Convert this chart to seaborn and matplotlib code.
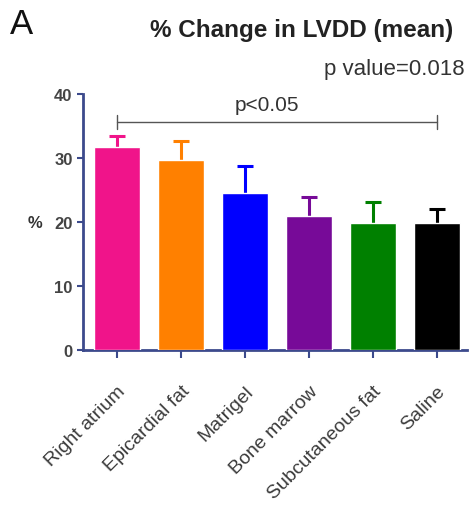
import matplotlib
matplotlib.use("Agg")
import matplotlib.pyplot as plt
import seaborn as sns

groups = ["Right atrium", "Epicardial fat", "Matrigel", "Bone marrow",
          "Subcutaneous fat", "Saline"]
means = [31.7, 29.7, 24.6, 21.0, 19.8, 19.9]
sems = [1.8, 3.0, 4.1, 3.0, 3.4, 2.2]
colors = ["#f0148a", "#ff8000", "#0000ff", "#770a98", "#008000", "#000000"]
yticks = [0, 10, 20, 30, 40]

sns.set_style("ticks")
plt.rcParams["font.family"] = ["Liberation Sans", "DejaVu Sans"]

axis_col = "#3c4a8c"
text_col = "#333333"

fig = plt.figure(figsize=(4.77, 5.06), dpi=100)
ax = fig.add_axes([0.174, 0.306, 0.805, 0.506])

sns.barplot(x=groups, y=means, hue=groups, palette=colors, legend=False,
            saturation=1, width=0.71, ax=ax, zorder=3)

# upper-only error bars in the bar colour (lower cap hidden)
for i, (m, s, c) in enumerate(zip(means, sems, colors)):
    _, caps, _ = ax.errorbar(i, m, yerr=[[0], [s]], fmt="none", ecolor=c,
                             elinewidth=2.2, capsize=5.8, capthick=2.2, zorder=2)
    caps[0].set_visible(False)

ax.set_xlim(-0.53, 5.47)
ax.set_ylim(0, 40)
ax.set_yticks(yticks)
ax.set_xlabel("")
ax.set_ylabel("%", fontsize=12, fontweight="bold", color=text_col,
              rotation=0, labelpad=14, va="center")

for side in ["top", "right"]:
    ax.spines[side].set_visible(False)
for side in ["left", "bottom"]:
    ax.spines[side].set_color(axis_col)
    ax.spines[side].set_linewidth(2)

ax.tick_params(axis="y", colors=axis_col, width=1.5, length=4,
               labelcolor="#444444", labelsize=12)
for lab in ax.get_yticklabels():
    lab.set_fontweight("bold")
ax.tick_params(axis="x", colors=axis_col, width=1.5, length=6, pad=17,
               labelcolor="#3a3a3a", labelsize=14)
plt.setp(ax.get_xticklabels(), rotation=45, ha="right", rotation_mode="anchor")

# significance bracket
yb = 35.6
ax.plot([0, 5], [yb, yb], color="#555555", lw=1, zorder=4)
ax.plot([0, 0], [yb - 1.1, yb + 1.1], color="#555555", lw=1, zorder=4)
ax.plot([5, 5], [yb - 1.1, yb + 1.1], color="#555555", lw=1, zorder=4)
ax.text(2.35, 38.4, "p<0.05", ha="center", va="center", fontsize=15,
        color=text_col)

fig.text(0.02, 0.952, "A", fontsize=25, ha="left", va="center", color="#111111")
fig.text(0.632, 0.94, "% Change in LVDD (mean)", fontsize=17.5,
         fontweight="bold", ha="center", va="center", color="#222222")
fig.text(0.975, 0.862, "p value=0.018", fontsize=16, ha="right",
         va="center", color=text_col)

fig.savefig("out.png", dpi=100)
